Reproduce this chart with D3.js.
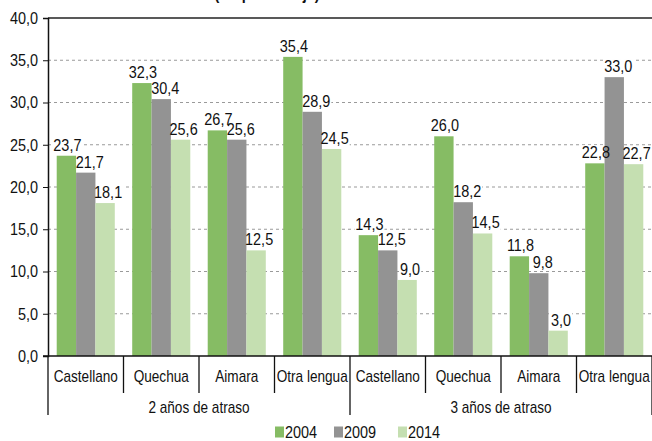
<!DOCTYPE html>
<html>
<head>
<meta charset="utf-8">
<script src="https://cdn.jsdelivr.net/npm/d3@7"></script>
<style>
  body { margin: 0; background: #fff; }
  svg text { font-family: "Liberation Sans", Arial, sans-serif; fill: #111; }
</style>
</head>
<body>
<div id="chart"></div>
<script>

// categories along the x axis (two groups of four)
var languages = ["Castellano", "Quechua", "Aimara", "Otra lengua",
                 "Castellano", "Quechua", "Aimara", "Otra lengua"];
var groups = ["2 años de atraso", "3 años de atraso"];
var years = ["2004", "2009", "2014"];

// values per year, same order as languages
var v2004 = [23.7, 32.3, 26.7, 35.4, 14.3, 26.0, 11.8, 22.8];
var v2009 = [21.7, 30.4, 25.6, 28.9, 12.5, 18.2, 9.8, 33.0];
var v2014 = [18.1, 25.6, 12.5, 24.5, 9.0, 14.5, 3.0, 22.7];

var yTicks = [0, 5, 10, 15, 20, 25, 30, 35, 40];

BarChart = function(_parentElement) {
  this.parentElement = _parentElement;
  this.colors = ["#86bc64", "#939393", "#c5dfb1"];
  // horizontal squeeze to get a narrow face out of Liberation Sans
  this.squeeze = 0.85;
  this.numSize = "17px";
  this.wordSize = "16px";
  // labels sit a little right of the bar centre
  this.labelShift = [1, 4, 3];
  this.initVis();
};

BarChart.prototype.initVis = function() {
  var vis = this;

  vis.width = 652;
  vis.height = 441;
  vis.margin = {top: 18, left: 48, right: 0, bottom: 85};

  vis.svg = d3.select(vis.parentElement).append("svg")
    .attr("width", vis.width)
    .attr("height", vis.height);

  vis.data = languages.map(function(l, i) {
    return {idx: i, lang: l, vals: [v2004[i], v2009[i], v2014[i]]};
  });

  vis.x0 = d3.scaleBand()
    .domain(d3.range(languages.length))
    .range([vis.margin.left, vis.width - vis.margin.right])
    .padding(0);

  vis.x1 = d3.scaleBand()
    .domain(d3.range(years.length))
    .range([0, vis.x0.bandwidth()])
    .paddingInner(0)
    .paddingOuter(0.45);

  vis.y = d3.scaleLinear()
    .domain([0, 40])
    .range([vis.height - vis.margin.bottom, vis.margin.top]);

  vis.fmt = function(d) { return d3.format(".1f")(d).replace(".", ","); };

  vis.drawVis();
};

BarChart.prototype.place = function(x, y) {
  return "translate(" + x + "," + y + ") scale(" + this.squeeze + ",1)";
};

BarChart.prototype.drawVis = function() {
  var vis = this;
  var x0 = vis.x0, x1 = vis.x1, y = vis.y;
  var left = vis.margin.left, right = vis.width - vis.margin.right;

  // cut off title at the very top
  vis.svg.append("text")
    .attr("transform", vis.place(267, 0))
    .attr("text-anchor", "middle")
    .style("font-size", "17px")
    .style("font-weight", "bold")
    .text("(En porcentaje)");

  // dotted grid
  vis.svg.append("g").selectAll("line")
    .data(yTicks.filter(function(t) { return t > 0 && t < 40; }))
    .enter().append("line")
    .attr("x1", left).attr("x2", right)
    .attr("y1", function(d) { return y(d); })
    .attr("y2", function(d) { return y(d); })
    .attr("stroke", "#9a9a9a")
    .attr("stroke-width", 1.2)
    .attr("stroke-dasharray", "3,3");

  // top border line
  vis.svg.append("line")
    .attr("x1", left).attr("x2", right)
    .attr("y1", y(40)).attr("y2", y(40))
    .attr("stroke", "#222")
    .attr("stroke-width", 1.6);

  var flat = [];
  vis.data.forEach(function(d) {
    d.vals.forEach(function(v, k) { flat.push({idx: d.idx, k: k, v: v}); });
  });

  function labelPos(d) {
    return vis.place(x0(d.idx) + x1(d.k) + x1.bandwidth() / 2 + vis.labelShift[d.k], y(d.v) - 5);
  }

  // white boxes behind labels (under the bars, over the grid)
  var boxLayer = vis.svg.append("g");

  // bars
  vis.svg.append("g").selectAll("rect")
    .data(flat)
    .enter().append("rect")
    .attr("x", function(d) { return x0(d.idx) + x1(d.k); })
    .attr("y", function(d) { return y(d.v); })
    .attr("width", x1.bandwidth())
    .attr("height", function(d) { return y(0) - y(d.v); })
    .attr("fill", function(d) { return vis.colors[d.k]; });

  // value labels
  var texts = vis.svg.append("g").selectAll("text")
    .data(flat)
    .enter().append("text")
    .attr("transform", labelPos)
    .attr("text-anchor", "middle")
    .style("font-size", vis.numSize)
    .text(function(d) { return vis.fmt(d.v); });

  texts.each(function(d) {
    var bb = this.getBBox();
    boxLayer.append("rect")
      .attr("transform", labelPos(d))
      .attr("x", bb.x - 1).attr("y", bb.y + 2)
      .attr("width", bb.width + 2).attr("height", bb.height - 3)
      .attr("fill", "#fff");
  });

  // y axis
  var yAxis = d3.axisLeft(y)
    .tickValues(yTicks)
    .tickSize(5)
    .tickPadding(5)
    .tickFormat(vis.fmt);

  var yg = vis.svg.append("g")
    .attr("transform", "translate(" + left + ",0)")
    .call(yAxis);
  yg.select(".domain").attr("stroke", "#111").attr("stroke-width", 1.5);
  yg.selectAll(".tick line").attr("stroke", "#111");
  yg.selectAll("text")
    .attr("x", -10 / vis.squeeze)
    .attr("transform", "scale(" + vis.squeeze + ",1)")
    .style("font-size", vis.numSize)
    .style("font-family", "\"Liberation Sans\", Arial, sans-serif")
    .attr("fill", "#111");

  // baseline
  vis.svg.append("line")
    .attr("x1", left - 5).attr("x2", right)
    .attr("y1", y(0)).attr("y2", y(0))
    .attr("stroke", "#111")
    .attr("stroke-width", 1.6);

  // category separators
  var bounds = d3.range(languages.length + 1);
  vis.svg.append("g").selectAll("line")
    .data(bounds)
    .enter().append("line")
    .attr("x1", function(d) { return d < languages.length ? x0(d) : right; })
    .attr("x2", function(d) { return d < languages.length ? x0(d) : right; })
    .attr("y1", y(0))
    .attr("y2", function(d) { return d % 4 == 0 ? 415 : 393; })
    .attr("stroke", "#111")
    .attr("stroke-width", 1.3);

  // category labels
  vis.svg.append("g").selectAll("text")
    .data(vis.data)
    .enter().append("text")
    .attr("transform", function(d) { return vis.place(x0(d.idx) + x0.bandwidth() / 2, 382); })
    .attr("text-anchor", "middle")
    .style("font-size", vis.wordSize)
    .text(function(d) { return d.lang; });

  // group labels
  vis.svg.append("g").selectAll("text")
    .data(groups)
    .enter().append("text")
    .attr("transform", function(d, i) { return vis.place(x0(i * 4) + x0.bandwidth() * 2, 413); })
    .attr("text-anchor", "middle")
    .style("font-size", vis.wordSize)
    .text(function(d) { return d; });

  // legend
  var legendX = [275, 334, 398];
  var legend = vis.svg.append("g").selectAll("g")
    .data(years)
    .enter().append("g")
    .attr("transform", function(d, i) { return "translate(" + legendX[i] + ",426.5)"; });

  legend.append("rect")
    .attr("width", 9).attr("height", 11)
    .attr("fill", function(d, i) { return vis.colors[i]; });

  legend.append("text")
    .attr("transform", vis.place(10, 11.5))
    .style("font-size", vis.numSize)
    .text(function(d) { return d; });
};

var chart = new BarChart("#chart");
</script>
</body>
</html>
